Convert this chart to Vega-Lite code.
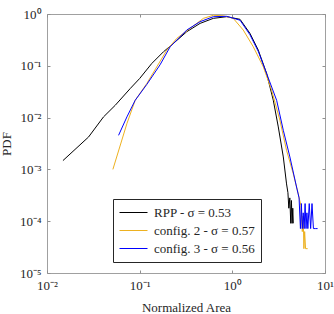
{
  "$schema": "https://vega.github.io/schema/vega-lite/v6.json",
  "width": 278,
  "height": 259,
  "autosize": {"type": "none"},
  "padding": {"left": 47, "top": 14, "right": 9, "bottom": 41},
  "background": "white",
  "config": {
    "font": "Liberation Serif",
    "view": {"stroke": "#a0a0a0", "strokeWidth": 1},
    "axis": {"labelFont": "Liberation Serif", "titleFont": "Liberation Serif"},
    "legend": {"labelFont": "Liberation Serif"}
  },
  "data": {"values": [
    {"s": "RPP - σ = 0.53", "x": 0.01486, "y": 0.00148},
    {"s": "RPP - σ = 0.53", "x": 0.0281, "y": 0.00423},
    {"s": "RPP - σ = 0.53", "x": 0.0407, "y": 0.0103},
    {"s": "RPP - σ = 0.53", "x": 0.0545, "y": 0.0173},
    {"s": "RPP - σ = 0.53", "x": 0.0791, "y": 0.0364},
    {"s": "RPP - σ = 0.53", "x": 0.1, "y": 0.0569},
    {"s": "RPP - σ = 0.53", "x": 0.1352, "y": 0.111},
    {"s": "RPP - σ = 0.53", "x": 0.1807, "y": 0.1866},
    {"s": "RPP - σ = 0.53", "x": 0.2312, "y": 0.2704},
    {"s": "RPP - σ = 0.53", "x": 0.3221, "y": 0.455},
    {"s": "RPP - σ = 0.53", "x": 0.4487, "y": 0.659},
    {"s": "RPP - σ = 0.53", "x": 0.6237, "y": 0.824},
    {"s": "RPP - σ = 0.53", "x": 0.869, "y": 0.887},
    {"s": "RPP - σ = 0.53", "x": 1.211, "y": 0.789},
    {"s": "RPP - σ = 0.53", "x": 1.549, "y": 0.423},
    {"s": "RPP - σ = 0.53", "x": 1.905, "y": 0.201},
    {"s": "RPP - σ = 0.53", "x": 2.344, "y": 0.0711},
    {"s": "RPP - σ = 0.53", "x": 2.767, "y": 0.0216},
    {"s": "RPP - σ = 0.53", "x": 3.133, "y": 0.00661},
    {"s": "RPP - σ = 0.53", "x": 3.548, "y": 0.00174},
    {"s": "RPP - σ = 0.53", "x": 3.846, "y": 0.000525},
    {"s": "RPP - σ = 0.53", "x": 3.98, "y": 0.000355},
    {"s": "RPP - σ = 0.53", "x": 4.07, "y": 0.000178},
    {"s": "RPP - σ = 0.53", "x": 4.17, "y": 0.000282},
    {"s": "RPP - σ = 0.53", "x": 4.27, "y": 0.000091},
    {"s": "RPP - σ = 0.53", "x": 4.34, "y": 0.000251},
    {"s": "RPP - σ = 0.53", "x": 4.42, "y": 0.000091},
    {"s": "RPP - σ = 0.53", "x": 4.49, "y": 0.000178},
    {"s": "RPP - σ = 0.53", "x": 4.55, "y": 0.000091},
    {"s": "config. 2 - σ = 0.57", "x": 0.0514, "y": 0.001},
    {"s": "config. 2 - σ = 0.57", "x": 0.0728, "y": 0.00766},
    {"s": "config. 2 - σ = 0.57", "x": 0.0895, "y": 0.0216},
    {"s": "config. 2 - σ = 0.57", "x": 0.1194, "y": 0.0455},
    {"s": "config. 2 - σ = 0.57", "x": 0.1531, "y": 0.0957},
    {"s": "config. 2 - σ = 0.57", "x": 0.1963, "y": 0.201},
    {"s": "config. 2 - σ = 0.57", "x": 0.2512, "y": 0.338},
    {"s": "config. 2 - σ = 0.57", "x": 0.35, "y": 0.528},
    {"s": "config. 2 - σ = 0.57", "x": 0.4875, "y": 0.824},
    {"s": "config. 2 - σ = 0.57", "x": 0.6237, "y": 0.944},
    {"s": "config. 2 - σ = 0.57", "x": 0.8, "y": 0.923},
    {"s": "config. 2 - σ = 0.57", "x": 1.023, "y": 0.824},
    {"s": "config. 2 - σ = 0.57", "x": 1.312, "y": 0.49},
    {"s": "config. 2 - σ = 0.57", "x": 1.683, "y": 0.233},
    {"s": "config. 2 - σ = 0.57", "x": 2.158, "y": 0.0957},
    {"s": "config. 2 - σ = 0.57", "x": 2.655, "y": 0.0338},
    {"s": "config. 2 - σ = 0.57", "x": 3.258, "y": 0.00891},
    {"s": "config. 2 - σ = 0.57", "x": 3.846, "y": 0.00234},
    {"s": "config. 2 - σ = 0.57", "x": 4.539, "y": 0.000832},
    {"s": "config. 2 - σ = 0.57", "x": 5.14, "y": 0.000339},
    {"s": "config. 2 - σ = 0.57", "x": 5.5, "y": 0.0002},
    {"s": "config. 2 - σ = 0.57", "x": 5.69, "y": 0.000063},
    {"s": "config. 2 - σ = 0.57", "x": 5.82, "y": 0.000126},
    {"s": "config. 2 - σ = 0.57", "x": 5.92, "y": 0.0000295},
    {"s": "config. 2 - σ = 0.57", "x": 6.03, "y": 0.000063},
    {"s": "config. 2 - σ = 0.57", "x": 6.17, "y": 0.0000295},
    {"s": "config. 2 - σ = 0.57", "x": 6.5, "y": 0.0000295},
    {"s": "config. 3 - σ = 0.56", "x": 0.0592, "y": 0.00455},
    {"s": "config. 3 - σ = 0.56", "x": 0.0728, "y": 0.0103},
    {"s": "config. 3 - σ = 0.56", "x": 0.0895, "y": 0.0216},
    {"s": "config. 3 - σ = 0.56", "x": 0.1194, "y": 0.0437},
    {"s": "config. 3 - σ = 0.56", "x": 0.166, "y": 0.1047},
    {"s": "config. 3 - σ = 0.56", "x": 0.2133, "y": 0.233},
    {"s": "config. 3 - σ = 0.56", "x": 0.3221, "y": 0.49},
    {"s": "config. 3 - σ = 0.56", "x": 0.4487, "y": 0.711},
    {"s": "config. 3 - σ = 0.56", "x": 0.6237, "y": 0.887},
    {"s": "config. 3 - σ = 0.56", "x": 0.869, "y": 0.902},
    {"s": "config. 3 - σ = 0.56", "x": 1.211, "y": 0.759},
    {"s": "config. 3 - σ = 0.56", "x": 1.549, "y": 0.398},
    {"s": "config. 3 - σ = 0.56", "x": 1.905, "y": 0.19},
    {"s": "config. 3 - σ = 0.56", "x": 2.344, "y": 0.0711},
    {"s": "config. 3 - σ = 0.56", "x": 3.006, "y": 0.0216},
    {"s": "config. 3 - σ = 0.56", "x": 3.548, "y": 0.00569},
    {"s": "config. 3 - σ = 0.56", "x": 4.178, "y": 0.00174},
    {"s": "config. 3 - σ = 0.56", "x": 4.932, "y": 0.000457},
    {"s": "config. 3 - σ = 0.56", "x": 5.25, "y": 0.000282},
    {"s": "config. 3 - σ = 0.56", "x": 5.43, "y": 0.000072},
    {"s": "config. 3 - σ = 0.56", "x": 5.56, "y": 0.000219},
    {"s": "config. 3 - σ = 0.56", "x": 5.69, "y": 0.000072},
    {"s": "config. 3 - σ = 0.56", "x": 5.82, "y": 0.000145},
    {"s": "config. 3 - σ = 0.56", "x": 5.96, "y": 0.000072},
    {"s": "config. 3 - σ = 0.56", "x": 6.1, "y": 0.000219},
    {"s": "config. 3 - σ = 0.56", "x": 6.24, "y": 0.000072},
    {"s": "config. 3 - σ = 0.56", "x": 6.38, "y": 0.000145},
    {"s": "config. 3 - σ = 0.56", "x": 6.53, "y": 0.000072},
    {"s": "config. 3 - σ = 0.56", "x": 6.76, "y": 0.000219},
    {"s": "config. 3 - σ = 0.56", "x": 7.0, "y": 0.000072},
    {"s": "config. 3 - σ = 0.56", "x": 7.24, "y": 0.000219},
    {"s": "config. 3 - σ = 0.56", "x": 7.5, "y": 0.000072},
    {"s": "config. 3 - σ = 0.56", "x": 7.94, "y": 0.000072},
    {"s": "config. 3 - σ = 0.56", "x": 8.32, "y": 0.000072}
  ]},
  "layer": [
    {
      "mark": {"type": "line", "strokeWidth": 1, "clip": true},
      "encoding": {
        "x": {"field": "x", "type": "quantitative",
          "scale": {"type": "log", "domain": [0.01, 10], "nice": false},
          "axis": {"orient": "bottom", "values": [0.01, 0.1, 1, 10], "title": "Normalized Area",
            "labelExpr": "datum.value < 0.05 ? '10⁻²' : datum.value < 0.5 ? '10⁻¹' : datum.value < 5 ? '10⁰' : '10¹'",
            "grid": false, "domain": false, "tickSize": -3, "tickColor": "#909090",
            "labelPadding": 9, "labelFontSize": 13, "labelColor": "#262626", "labelFlush": false,
            "titleFontSize": 13, "titleFontWeight": "normal", "titleColor": "#262626", "titlePadding": 9}},
        "y": {"field": "y", "type": "quantitative",
          "scale": {"type": "log", "domain": [0.00001, 1], "nice": false},
          "axis": {"orient": "left", "values": [0.00001, 0.0001, 0.001, 0.01, 0.1, 1], "title": "PDF",
            "labelExpr": "datum.value > 0.5 ? '10⁰' : datum.value > 0.05 ? '10⁻¹' : datum.value > 0.005 ? '10⁻²' : datum.value > 0.0005 ? '10⁻³' : datum.value > 0.00005 ? '10⁻⁴' : '10⁻⁵'",
            "grid": false, "domain": false, "tickSize": -3, "tickColor": "#909090",
            "labelPadding": 9, "labelFontSize": 13, "labelColor": "#262626", "labelFlush": false,
            "titleFontSize": 13, "titleFontWeight": "normal", "titleColor": "#262626", "titlePadding": 6}},
        "color": {"field": "s", "type": "nominal",
          "scale": {"domain": ["RPP - σ = 0.53", "config. 2 - σ = 0.57", "config. 3 - σ = 0.56"], "range": ["#000000", "#EDB120", "#0000FF"]},
          "legend": {"title": null, "orient": "none", "legendX": 66, "legendY": 185,
            "symbolType": "M-1,0H3", "symbolSize": 196, "symbolStrokeWidth": 1,
            "labelFont": "Liberation Serif", "labelFontSize": 13, "labelColor": "#262626", "labelOffset": 20,
            "fillColor": "white", "strokeColor": "#262626", "padding": 6, "rowPadding": 3}}
      }
    },
    {
      "mark": {"type": "line", "opacity": 0},
      "encoding": {
        "x": {"field": "x", "type": "quantitative",
          "scale": {"type": "log", "domain": [0.01, 10], "nice": false},
          "axis": {"orient": "top", "values": [0.01, 0.1, 1, 10], "title": null, "labels": false,
            "grid": false, "domain": false, "tickSize": -3, "tickColor": "#909090"}},
        "y": {"field": "y", "type": "quantitative",
          "scale": {"type": "log", "domain": [0.00001, 1], "nice": false},
          "axis": {"orient": "right", "values": [0.00001, 0.0001, 0.001, 0.01, 0.1, 1], "title": null, "labels": false,
            "grid": false, "domain": false, "tickSize": -3, "tickColor": "#909090"}},
        "detail": {"field": "s"}
      }
    }
  ],
  "resolve": {"axis": {"x": "independent", "y": "independent"}}
}
